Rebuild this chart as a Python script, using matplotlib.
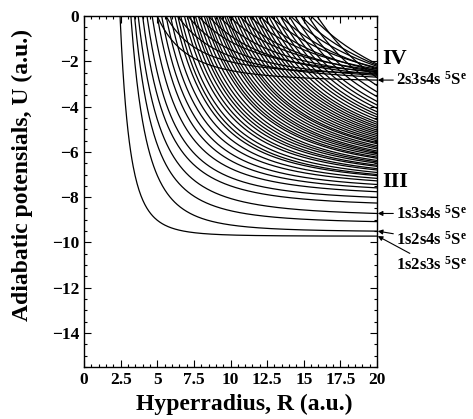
import numpy as np
import matplotlib
matplotlib.use("Agg")
import matplotlib.pyplot as plt
from matplotlib.ticker import MultipleLocator

plt.rcParams['font.family'] = ['Liberation Serif', 'DejaVu Serif']
plt.rcParams['font.weight'] = 'bold'
plt.rcParams['mathtext.fontset'] = 'custom'
plt.rcParams['mathtext.rm'] = 'Liberation Serif:bold'
plt.rcParams['mathtext.it'] = 'Liberation Serif:bold'
plt.rcParams['mathtext.bf'] = 'Liberation Serif:bold'

# steep curves (III group): R where the curve leaves U = 0, and U at R = 20
r_zero_III = [2.46, 3.2, 3.45, 3.7, 4.0, 4.3, 4.65, 5.0, 5.3, 5.6, 5.9, 6.2, 6.4, 6.6,
              6.85, 7.05, 7.25, 7.45, 7.6, 7.8, 8.0, 8.2, 8.35, 8.5, 8.7, 8.9, 9.05,
              9.2, 9.4, 9.6, 9.75, 9.9, 10.1, 10.3, 10.5, 10.7, 10.9, 11.1, 11.3, 11.5,
              11.7, 11.9, 12.1, 12.35, 12.6, 12.85, 13.1, 13.4, 13.7, 14.0, 14.4, 14.8,
              15.3, 15.9]
u_end_III = [-9.72, -9.50, -9.08, -8.72, -8.26, -8.01, -7.76, -7.59, -7.44, -7.28, -7.17,
             -7.05, -7.0, -6.91, -6.80, -6.74, -6.64, -6.59, -6.50, -6.44, -6.38, -6.28,
             -6.23, -6.15, -6.08, -6.02, -5.96, -5.87, -5.80, -5.73, -5.64, -5.59, -5.51,
             -5.44, -5.36, -5.28, -5.20, -5.12, -5.04, -4.95, -4.87, -4.78, -4.69, -4.58,
             -4.46, -4.35, -4.23, -4.08, -3.93, -3.77, -3.56, -3.35, -3.07, -2.72]
n_III = [3.7, 3.0, 2.6, 2.4] + [2.4] * (len(r_zero_III) - 4)

# flatter curves (IV group)
r_zero_IV = [5.0, 5.6, 6.4, 7.1, 7.8, 8.5, 9.2, 9.9, 10.6, 11.3, 12.0, 12.7, 13.4, 14.1,
             14.8, 15.5]
u_end_IV = [-2.83, -2.53, -2.7, -2.62, -2.45, -2.58, -2.5, -2.4, -2.47, -2.35, -2.42,
            -2.28, -2.33, -2.22, -2.17, -2.12]
n_IV = [2.5, 2.5] + [2.0] * (len(r_zero_IV) - 2)

labels = ["IV", "III"]
label_u = [-1.9, -7.35]
states = ["2s3s4s", "1s3s4s", "1s2s4s", "1s2s3s"]
state_u = [-2.83, -8.72, -9.50, -9.72]
state_text_u = [-2.83, -8.72, -9.9, -11.0]


def curve(r0, u20, n):
    R = np.linspace(r0 * 0.97, 20, 400)
    b = -u20 / (r0 ** -n - 20.0 ** -n)
    a = -b * r0 ** -n
    return R, a + b * R ** -n


fig = plt.figure(figsize=(4.73, 4.19), dpi=100)
ax = fig.add_axes([0.1776, 0.1241, 0.6195, 0.8377])

for r0, u20, n in zip(r_zero_III, u_end_III, n_III):
    R, U = curve(r0, u20, n)
    ax.plot(R, U, color='black', lw=0.9)
for r0, u20, n in zip(r_zero_IV, u_end_IV, n_IV):
    R, U = curve(r0, u20, n)
    ax.plot(R, U, color='black', lw=0.9)

ax.set_xlim(0, 20)
ax.set_ylim(-15.5, 0)
ax.xaxis.set_major_locator(MultipleLocator(2.5))
ax.xaxis.set_minor_locator(MultipleLocator(0.5))
ax.yaxis.set_major_locator(MultipleLocator(2))
ax.yaxis.set_minor_locator(MultipleLocator(0.5))
ax.set_xticklabels([f"{v:g}" for v in ax.get_xticks()])
ax.tick_params(which='both', direction='in', top=True, right=True, labelsize=12.5, width=0.8)
ax.tick_params(which='major', length=5)
ax.tick_params(which='minor', length=2.5)
for s in ax.spines.values():
    s.set_linewidth(1.0)

ax.set_xlabel("Hyperradius, R (a.u.)", fontsize=17, fontweight='bold')
ax.set_ylabel("Adiabatic potensials, U (a.u.)", fontsize=17, fontweight='bold')
ax.xaxis.set_label_coords(0.546, -0.075)
ax.yaxis.set_label_coords(-0.175, 0.547)

for t, u in zip(labels, label_u):
    ax.text(20.35, u, t, fontsize=16, fontweight='bold', va='center', ha='left')

for st, u, tu in zip(states, state_u, state_text_u):
    ax.annotate(st + r" $^{\mathrm{5}}\mathrm{S}^{\mathrm{e}}$", xy=(20.05, u), xytext=(21.3, tu),
                fontsize=12, va='center', ha='left', annotation_clip=False,
                arrowprops=dict(arrowstyle='-|>', color='black', lw=0.8,
                                mutation_scale=7, shrinkA=0, shrinkB=0))

fig.savefig("out.png", dpi=100)
